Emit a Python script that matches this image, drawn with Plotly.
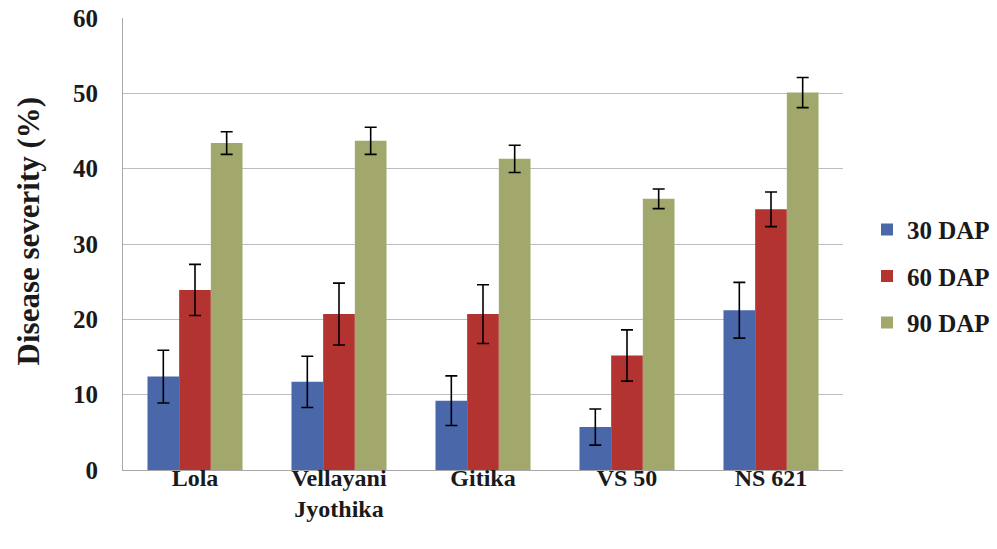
import plotly.graph_objects as go

# Disease severity of varieties at three crop stages (mean ± SE)
varieties = ["Lola", "Vellayani<br>Jyothika", "Gitika", "VS 50", "NS 621"]
series_names = ["30 DAP", "60 DAP", "90 DAP"]

dap30 = [12.4, 11.7, 9.2, 5.7, 21.2]
dap60 = [23.9, 20.7, 20.7, 15.2, 34.6]
dap90 = [43.4, 43.7, 41.3, 36.0, 50.1]

err30 = [3.5, 3.4, 3.3, 2.4, 3.7]
err60 = [3.4, 4.1, 3.9, 3.4, 2.3]
err90 = [1.5, 1.8, 1.8, 1.3, 2.0]

y_ticks = [0, 10, 20, 30, 40, 50, 60]

colors = ["#4A67A9", "#B2332F", "#A2A86B"]
values = [dap30, dap60, dap90]
errors = [err30, err60, err90]

serif = '"Liberation Serif", "Times New Roman", Times, serif'
ink = "#1a1a1a"

fig = go.Figure()
for name, vals, errs, col in zip(series_names, values, errors, colors):
    fig.add_trace(go.Bar(
        x=varieties,
        y=vals,
        name=name,
        legendgroup=name,
        marker=dict(color=col, line=dict(width=0)),
        error_y=dict(type="data", array=errs, visible=True,
                     color="black", thickness=1.6, width=6),
    ))

# y-axis title placed as a rotated annotation so it sits slightly above centre
fig.add_annotation(
    text="Disease severity (%)",
    xref="paper", yref="paper",
    x=-0.132, y=0.53,
    xanchor="center", yanchor="middle",
    textangle=-90, showarrow=False,
    font=dict(family=serif, size=31, color=ink, weight="bold"),
)

fig.update_layout(
    width=997,
    height=549,
    margin=dict(l=123, r=154, t=18, b=79, autoexpand=False),
    paper_bgcolor="white",
    plot_bgcolor="white",
    barmode="group",
    bargap=0.34,
    bargroupgap=0,
    font=dict(family=serif, color=ink),
    legend=dict(
        xref="container", yref="container",
        x=0.8696, y=0.497, xanchor="left", yanchor="middle",
        font=dict(family=serif, size=25, color=ink, weight="bold"),
        itemwidth=30,
        tracegroupgap=11,
        traceorder="grouped",
    ),
    xaxis=dict(
        automargin=False,
        showgrid=False,
        showline=True, linecolor="#A8A8A8", linewidth=1,
        ticks="",
        ticklabelstandoff=-14,
        tickfont=dict(family=serif, size=24, color=ink, weight="bold"),
    ),
    yaxis=dict(
        automargin=False,
        range=[0, 60],
        tickvals=y_ticks,
        showgrid=True, gridcolor="#BDBDBD", gridwidth=1,
        showline=True, linecolor="#A8A8A8", linewidth=1,
        ticks="",
        ticklabelstandoff=19,
        tickfont=dict(family=serif, size=25, color=ink, weight="bold"),
        zeroline=False,
    ),
)

fig.write_html("out.html")
